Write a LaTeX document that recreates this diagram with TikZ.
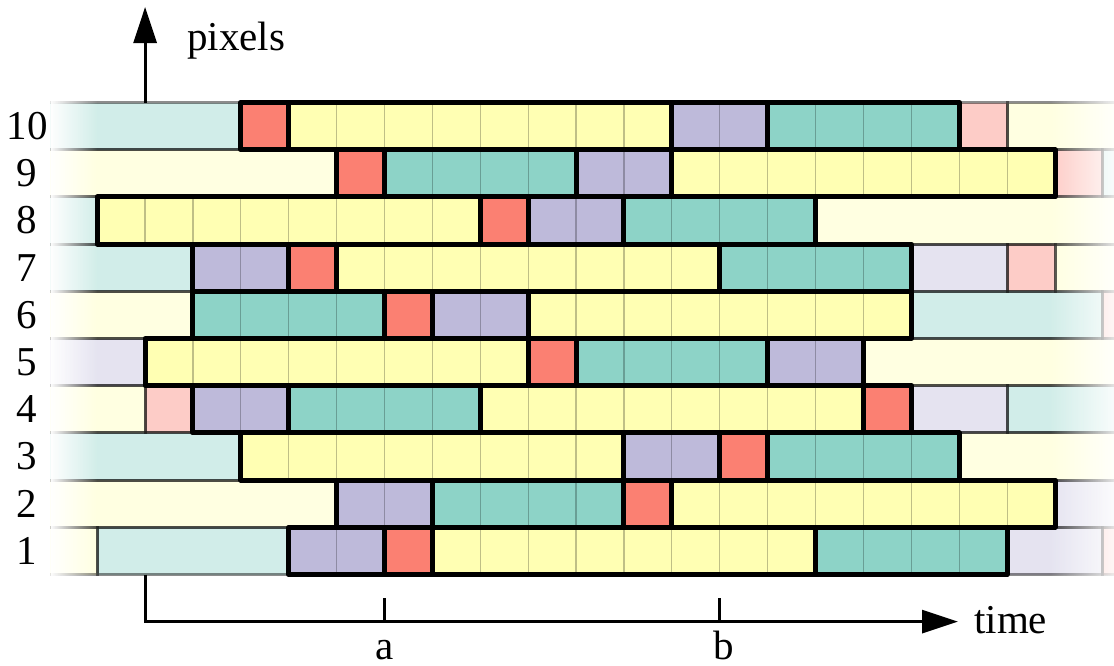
\documentclass[tikz,border=0pt]{standalone}
\usepackage{fontspec}
\setmainfont{Liberation Serif}
\usetikzlibrary{arrows.meta,fadings}
\definecolor{cT}{HTML}{8DD3C7}
\definecolor{cY}{HTML}{FFFFB3}
\definecolor{cP}{HTML}{BEBADA}
\definecolor{cR}{HTML}{FB8072}
\begin{document}
\begin{tikzpicture}[x=1pt,y=-1pt,
  fadedfill/.style={fill opacity=0.4},
  fadedline/.style={draw=black,draw opacity=0.45,line width=3},
  gridline/.style={draw=black,draw opacity=0.25,line width=1.2},
  boldline/.style={draw=black,line width=5,line join=round},
  axisline/.style={draw=black,line width=3},
  lbl/.style={font=\fontsize{41}{49}\selectfont,inner sep=0pt},
  tip/.style={-{Triangle[length=36pt,width=23pt]}}]
\useasboundingbox (0,0) rectangle (1114,665);
% row r: top = 102.5+47.2*(10-r); column k: x = 49.3+47.89*k
\def\boldblocks{10/4/5/cR, 10/5/13/cY, 10/13/15/cP, 10/15/19/cT,
  9/6/7/cR, 9/7/11/cT, 9/11/13/cP, 9/13/21/cY,
  8/1/9/cY, 8/9/10/cR, 8/10/12/cP, 8/12/16/cT,
  7/3/5/cP, 7/5/6/cR, 7/6/14/cY, 7/14/18/cT,
  6/3/7/cT, 6/7/8/cR, 6/8/10/cP, 6/10/18/cY,
  5/2/10/cY, 5/10/11/cR, 5/11/15/cT, 5/15/17/cP,
  4/3/5/cP, 4/5/9/cT, 4/9/17/cY, 4/17/18/cR,
  3/4/12/cY, 3/12/14/cP, 3/14/15/cR, 3/15/19/cT,
  2/6/8/cP, 2/8/12/cT, 2/12/13/cR, 2/13/21/cY,
  1/5/7/cP, 1/7/8/cR, 1/8/16/cY, 1/16/20/cT}
\def\fadedblocks{10/-1/4/cT, 10/19/20/cR, 10/20/25/cY,
  9/-3/6/cY, 9/21/22/cR, 9/22/26/cT,
  8/-3/1/cT, 8/16/25/cY,
  7/-1/3/cT, 7/18/20/cP, 7/20/21/cR, 7/21/25/cY,
  6/-3/3/cY, 6/18/22/cT, 6/22/23/cR,
  5/-1/2/cP, 5/17/25/cY,
  4/-1/2/cY, 4/2/3/cR, 4/18/20/cP, 4/20/25/cT,
  3/-1/4/cT, 3/19/25/cY,
  2/-3/6/cY, 2/21/25/cP,
  1/-1/1/cY, 1/1/5/cT, 1/20/22/cP, 1/22/23/cR}
% faded background blocks
\begin{scope}
  \clip (50.5,90) rectangle (1114,590);
  \foreach \r/\a/\b/\c in \fadedblocks {
    \fill[fadedfill,\c] ({49.3+47.89*(\a)},{102.5+47.2*(10-\r)}) rectangle ({49.3+47.89*(\b)},{102.5+47.2*(11-\r)});
  }
  \foreach \r/\a/\b/\c in \fadedblocks {
    \draw[fadedline] ({49.3+47.89*(\a)},{102.5+47.2*(10-\r)}) rectangle ({49.3+47.89*(\b)},{102.5+47.2*(11-\r)});
  }
  \fill[white,path fading=east] (50,92) rectangle (97,585);
  \fill[white,fill opacity=0.85,path fading=west] (1050,92) rectangle (1114,585);
\end{scope}
% bold blocks: fills and cell lines
\foreach \r/\a/\b/\c in \boldblocks {
  \fill[\c] ({49.3+47.89*(\a)},{102.5+47.2*(10-\r)}) rectangle ({49.3+47.89*(\b)},{102.5+47.2*(11-\r)});
  \foreach \k in {\a,...,\b} {
    \draw[gridline] ({49.3+47.89*(\k)},{102.5+47.2*(10-\r)}) -- ({49.3+47.89*(\k)},{102.5+47.2*(11-\r)});
  }
}
% bold outlines
\foreach \r/\a/\b/\c in \boldblocks {
  \draw[boldline] ({49.3+47.89*(\a)},{102.5+47.2*(10-\r)}) rectangle ({49.3+47.89*(\b)},{102.5+47.2*(11-\r)});
}
% row labels
\foreach \r in {1,...,10} {
  \node[lbl] (row\r) at (27,{102.5+47.2*(10.5-\r)}) {\r};
}
% axes
\coordinate (ytop) at (145.1,102.5);
\coordinate (ytip) at (145.1,7);
\coordinate (ybot) at (145.1,574.5);
\coordinate (orig) at (145.1,621.6);
\coordinate (xtip) at (958,621.6);
\coordinate (ta) at (384.5,598);
\coordinate (tb) at (719.8,598);
\draw[axisline,tip] (ytop) -- (ytip);
\draw[axisline,tip,line join=miter] (ybot) -- (orig) -- (xtip);
\draw[axisline] (ta) -- (ta |- orig);
\draw[axisline] (tb) -- (tb |- orig);
\node[lbl,anchor=base west] (ylab) at (187,50) {pixels};
\node[lbl,anchor=base west] (xlab) at (974,633) {time};
\node[lbl,anchor=base] (la) at (385,659) {a};
\node[lbl,anchor=base] (lb) at (724,659) {b};
\end{tikzpicture}
\end{document}
